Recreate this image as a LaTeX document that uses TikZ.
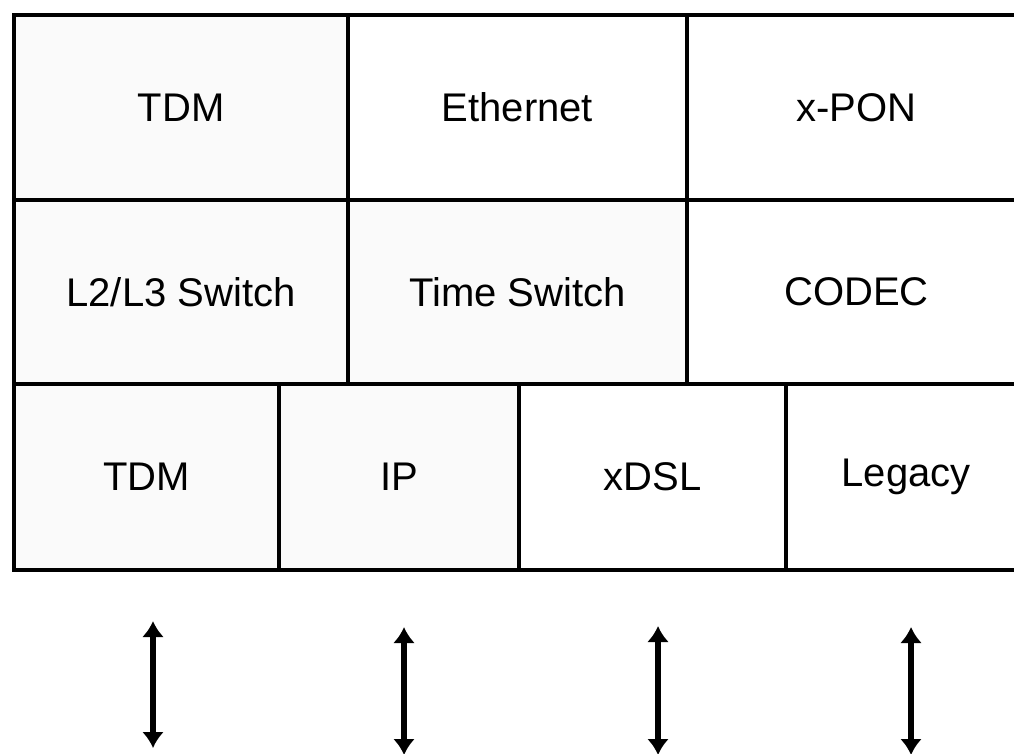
\documentclass[tikz,border=0pt]{standalone}
\usepackage{fontspec}
\setmainfont{Liberation Sans}
\usetikzlibrary{arrows.meta}
\tikzset{
  cell/.style={draw=black, line width=3.5pt, inner sep=0pt, anchor=center,
    font=\fontsize{40}{48}\selectfont},
  shaded/.style={fill=black!2},
  link/.style={line width=6pt, arrows={Latex[length=16pt,width=22pt]-Latex[length=16pt,width=22pt]}}
}
\begin{document}
\begin{tikzpicture}[x=1pt,y=-1pt]
\useasboundingbox[fill=white] (0,0) rectangle (1014,754);
% row 1
\node[cell,shaded,minimum width=334pt,minimum height=185pt] (tdm1) at (181,107.5) {TDM};
\node[cell,minimum width=339pt,minimum height=185pt] (eth) at (517.5,107.5) {Ethernet};
\node[cell,minimum width=339pt,minimum height=185pt] (xpon) at (856.5,107.5) {x-PON};
% row 2
\node[cell,shaded,minimum width=334pt,minimum height=184pt] (l2l3) at (181,292) {L2/L3 Switch};
\node[cell,shaded,minimum width=339pt,minimum height=184pt] (tsw) at (517.5,292) {Time Switch};
\node[cell,minimum width=339pt,minimum height=184pt] (codec) at (856.5,292) {CODEC};
% row 3
\node[cell,shaded,minimum width=265pt,minimum height=186pt] (tdm2) at (146.5,477) {TDM};
\node[cell,shaded,minimum width=240pt,minimum height=186pt] (ip) at (399,477) {IP};
\node[cell,minimum width=267pt,minimum height=186pt] (xdsl) at (652.5,477) {xDSL};
\node[cell,minimum width=240pt,minimum height=186pt] (legacy) at (906,477) {Legacy};
% arrows
\coordinate (a1t) at (153,621); \coordinate (a1b) at (153,748);
\coordinate (a2t) at (404,627); \coordinate (a2b) at (404,755);
\coordinate (a3t) at (658,626); \coordinate (a3b) at (658,755);
\coordinate (a4t) at (911,627); \coordinate (a4b) at (911,755);
\draw[link] (a1t) -- (a1b);
\draw[link] (a2t) -- (a2b);
\draw[link] (a3t) -- (a3b);
\draw[link] (a4t) -- (a4b);
\end{tikzpicture}
\end{document}
